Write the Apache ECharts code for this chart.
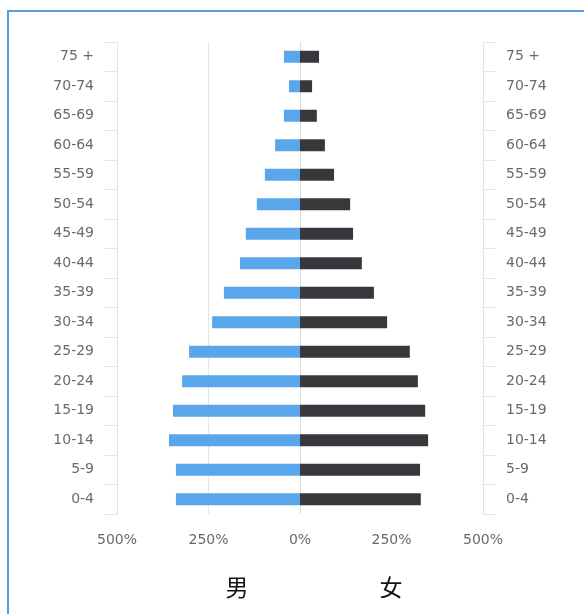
<!DOCTYPE html>
<html>
<head>
<meta charset="utf-8">
<script src="https://cdn.jsdelivr.net/npm/echarts@6/dist/echarts.min.js"></script>
<style>
  html, body { margin: 0; padding: 0; background: #fff; overflow: hidden; }
  #frame { position: absolute; left: 7px; top: 10px; width: 600px; height: 620px;
           border-left: 2px solid #5b9bd8; border-top: 2px solid #5b9bd8; }
  #chart { position: absolute; left: 0; top: 0; width: 584px; height: 614px; }
</style>
</head>
<body>
<div id="frame"></div>
<div id="chart"></div>
<script>
// Age groups, youngest first (drawn bottom to top)
const ageGroups = ['0-4', '5-9', '10-14', '15-19', '20-24', '25-29', '30-34', '35-39',
                   '40-44', '45-49', '50-54', '55-59', '60-64', '65-69', '70-74', '75 +'];
// Percentages by age group
const maleValues   = [339, 339, 358, 347, 322, 303, 240, 208, 164, 148, 118, 96, 68, 44, 30, 44];
const femaleValues = [330, 328, 350, 342, 322, 300, 238, 202, 169, 145, 137, 93, 68, 46, 33, 52];
const axisTicks = [-500, -250, 0, 250, 500];

const labelColor = '#6a6a6a';
const labelFont = '"DejaVu Sans", Verdana, sans-serif';

const chart = echarts.init(document.getElementById('chart'));

const catAxis = (pos) => ({
  type: 'category',
  position: pos,
  data: ageGroups,
  axisLine: { show: true, onZero: false, lineStyle: { color: '#e4e4e4' } },
  axisTick: { show: true, length: 12, lineStyle: { color: '#e4e4e4' } },
  axisLabel: { margin: 23, color: labelColor, fontSize: 14, fontFamily: labelFont }
});

chart.setOption({
  animation: false,
  grid: { left: 117, right: 101, top: 42, bottom: 100 },
  title: [
    { text: '男', left: 232, top: 571, textAlign: 'center',
      textStyle: { fontSize: 23, fontWeight: 'normal', color: '#111', fontFamily: '"Noto Sans CJK SC"' } },
    { text: '女', left: 386, top: 571, textAlign: 'center',
      textStyle: { fontSize: 23, fontWeight: 'normal', color: '#111', fontFamily: '"Noto Sans CJK SC"' } }
  ],
  xAxis: {
    type: 'value',
    min: axisTicks[0],
    max: axisTicks[axisTicks.length - 1],
    interval: 250,
    axisLine: { show: false },
    axisTick: { show: false },
    axisLabel: {
      margin: 19, color: labelColor, fontSize: 14, fontFamily: labelFont,
      formatter: (v) => Math.abs(v) + '%'
    },
    splitLine: { show: true, lineStyle: { color: ['transparent', '#e6e6e6', '#dcdcdc', 'transparent', 'transparent'] } }
  },
  yAxis: [catAxis('left'), catAxis('right')],
  series: [
    {
      name: '男', type: 'bar', stack: 'pop', barWidth: 12,
      itemStyle: { color: '#5aa6ea' },
      data: maleValues.map(v => -v)
    },
    {
      name: '女', type: 'bar', stack: 'pop', barWidth: 12,
      itemStyle: { color: '#38383c' },
      data: femaleValues
    }
  ]
});
</script>
</body>
</html>
